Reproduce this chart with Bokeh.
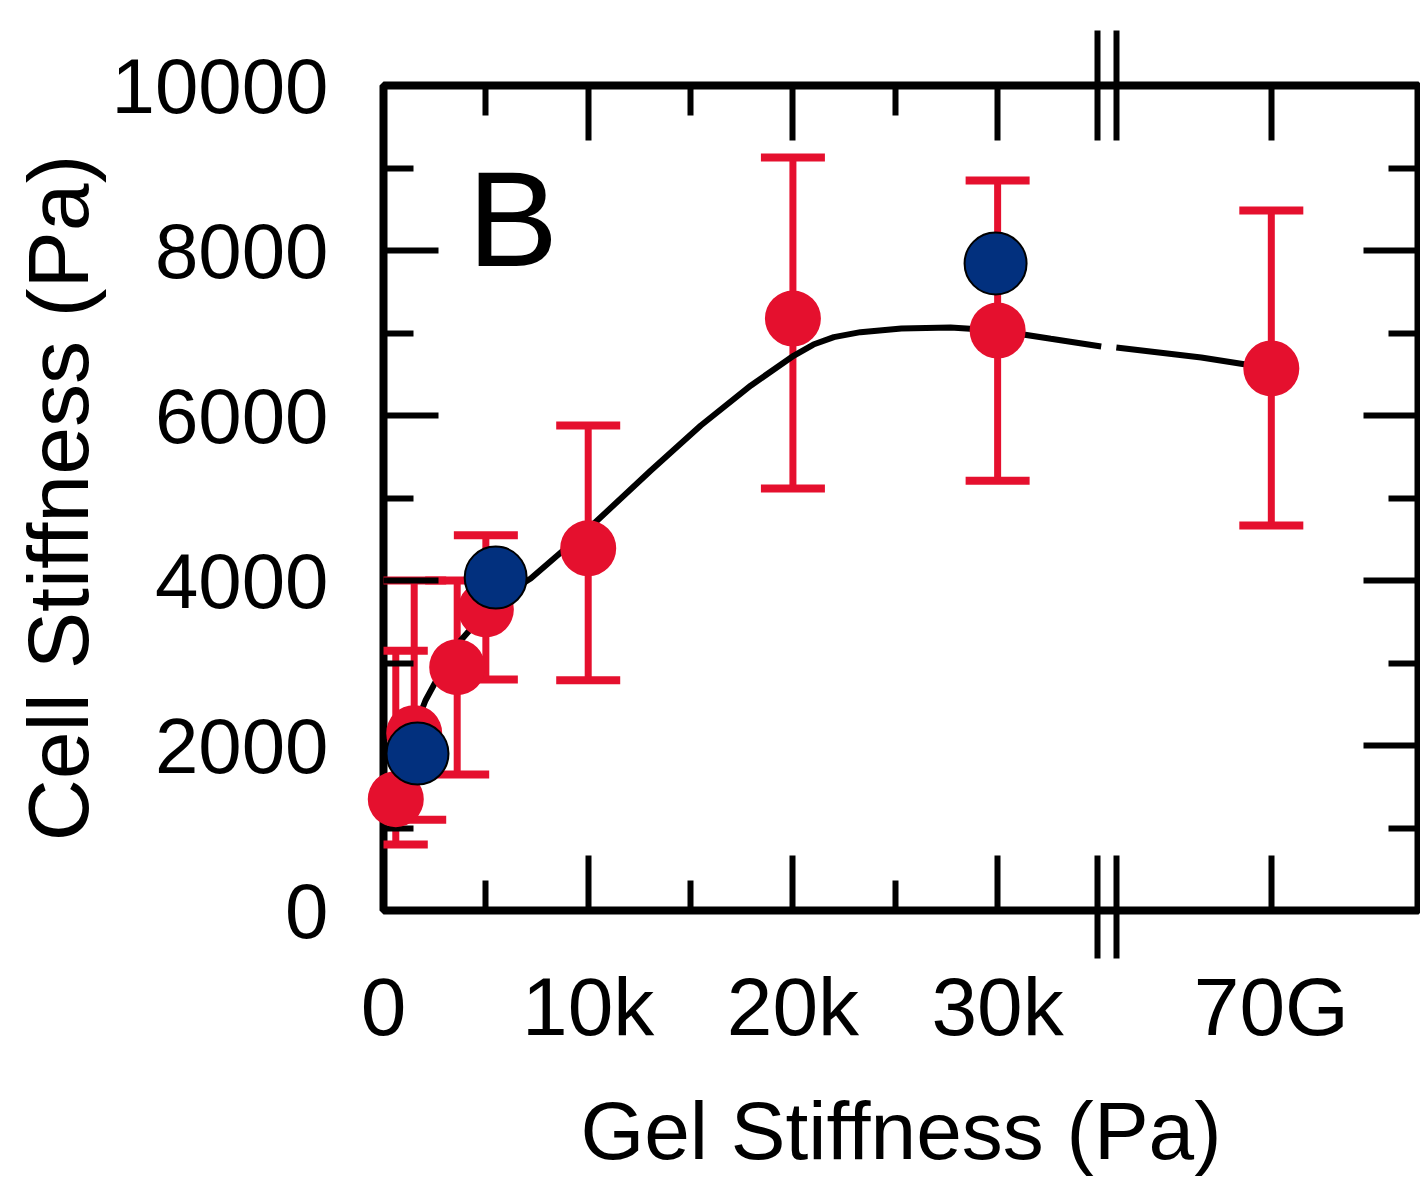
from bokeh.plotting import figure
from bokeh.models import (FixedTicker, LinearAxis, Label, ColumnDataSource,
                          Whisker, TeeHead, Range1d, CustomJSTickFormatter)
from bokeh.embed import file_html
from bokeh.resources import INLINE

# ---------------- data (gel stiffness in kPa, cell stiffness in Pa) ----------------
red_gel = [0.6, 1.5, 3.6, 5.0, 10.0, 20.0, 30.0, 70e6]        # last point = 70 GPa (glass)
red_cell = [1350, 2150, 2950, 3650, 4390, 7175, 7030, 6570]
red_lo = [800, 1100, 1650, 2800, 2790, 5115, 5210, 4667]
red_hi = [3150, 4000, 4000, 4550, 5880, 9127, 8850, 8485]

blue_gel = [1.66, 5.48, 29.9]
blue_cell = [1903, 4036, 7842]

curve_gel_a = [0.59, 1.2, 2.05, 3.0, 3.77, 5.48, 7.19, 10.02, 13.06, 15.5, 17.95, 20.05,
               21.0, 22.0, 23.3, 25.3, 27.7, 30.0, 32.6, 35.06]
curve_cell_a = [1333, 2000, 2545, 2980, 3273, 3758, 4024, 4630, 5333, 5879, 6364, 6727,
                6860, 6950, 7010, 7055, 7067, 7030, 6930, 6836]
curve_gel_b = [35.8, 39.95, 70e6]
curve_cell_b = [6824, 6703, 6570]

x_tick_vals = [0, 10, 20, 30]
x_tick_text = ["0", "10k", "20k", "30k"]
glass_text = "70G"
y_tick_vals = [0, 2000, 4000, 6000, 8000, 10000]

# ---------------- broken-axis mapping ----------------
GLASS_POS = 43.37           # axis position where the 70 GPa value is drawn
BREAK_MARKS = [34.9, 35.8]  # axis positions of the two break bars


def ax(g):
    return g if g < 1000 else GLASS_POS


FONT = "Liberation Sans"
TW = 6

p = figure(width=1420, height=1184, x_range=Range1d(0, 50.56), y_range=Range1d(0, 10000),
           output_backend="svg", toolbar_location=None, x_axis_location=None,
           min_border_left=383, min_border_right=2, min_border_top=85, min_border_bottom=274)
p.grid.visible = False
p.outline_line_color = "black"
p.outline_line_width = 8
p.background_fill_color = "white"
p.border_fill_color = "white"

xt = FixedTicker(ticks=x_tick_vals + [GLASS_POS], minor_ticks=[5, 15, 25])
yt = FixedTicker(ticks=y_tick_vals, minor_ticks=[1000, 3000, 5000, 7000, 9000])
bt = FixedTicker(ticks=BREAK_MARKS, minor_ticks=[])

overrides = {v: t for v, t in zip(x_tick_vals, x_tick_text)}
overrides[GLASS_POS] = glass_text
blank = CustomJSTickFormatter(code="return ''")


def style_axis(a):
    a.axis_line_color = None
    a.major_tick_in = 55
    a.major_tick_out = 0
    a.minor_tick_in = 30
    a.minor_tick_out = 0
    a.major_tick_line_width = TW
    a.minor_tick_line_width = TW
    a.major_tick_line_color = "black"
    a.minor_tick_line_color = "black"
    a.major_label_text_font = FONT
    a.major_label_text_color = "black"
    a.axis_label_text_font = FONT
    a.axis_label_text_font_style = "normal"
    a.axis_label_text_color = "black"


def tick_only(ticker, tick_out=0):
    a = LinearAxis(ticker=ticker, formatter=blank)
    style_axis(a)
    a.major_tick_out = tick_out
    a.major_label_text_font_size = "1px"
    a.major_label_standoff = 0
    return a


# bottom: ticks next to frame, then break bars, then the labelled axis
p.add_layout(tick_only(xt), "below")
p.add_layout(tick_only(bt, tick_out=48), "below")
xa = LinearAxis(ticker=xt)
style_axis(xa)
xa.major_label_overrides = overrides
xa.major_tick_line_color = None
xa.minor_tick_line_color = None
xa.major_tick_in = 0
xa.minor_tick_in = 0
xa.major_label_text_font_size = "82px"
xa.major_label_standoff = 2
xa.axis_label = "Gel Stiffness (Pa)"
xa.axis_label_text_font_size = "82px"
xa.axis_label_standoff = 30
p.add_layout(xa, "below")

# top: ticks next to frame, then break bars
p.add_layout(tick_only(xt), "above")
p.add_layout(tick_only(bt, tick_out=55), "above")

ya = p.yaxis[0]
ya.ticker = yt
style_axis(ya)
ya.major_label_text_font_size = "78px"
ya.major_label_standoff = 55
ya.axis_label = "Cell Stiffness (Pa)"
ya.axis_label_text_font_size = "86px"
ya.axis_label_standoff = 3

p.add_layout(tick_only(yt), "right")

# black fitted curve (two parts, interrupted at the break)
p.line([ax(g) for g in curve_gel_a], curve_cell_a, line_color="black", line_width=6)
p.line([ax(g) for g in curve_gel_b], curve_cell_b, line_color="black", line_width=6)

# red error bars and means
RED = "#E5102E"
src = ColumnDataSource(dict(x=[ax(g) for g in red_gel], y=red_cell, lo=red_lo, hi=red_hi))
p.add_layout(Whisker(source=src, base="x", lower="lo", upper="hi", dimension="height",
                     line_color=RED, line_width=7,
                     lower_head=TeeHead(size=64, line_color=RED, line_width=8),
                     upper_head=TeeHead(size=64, line_color=RED, line_width=8)))
p.scatter("x", "y", source=src, size=56, fill_color=RED, line_color=None, level="annotation")

# blue overlay points
p.scatter([ax(g) for g in blue_gel], blue_cell, size=62, fill_color="#02307E",
          line_color="black", line_width=2, level="overlay")

# panel letter
p.add_layout(Label(x=4.1, y=8380, text="B", text_font=FONT, text_font_size="136px",
                   text_color="black", text_baseline="alphabetic"))

open("out.html", "w").write(file_html(p, INLINE))
